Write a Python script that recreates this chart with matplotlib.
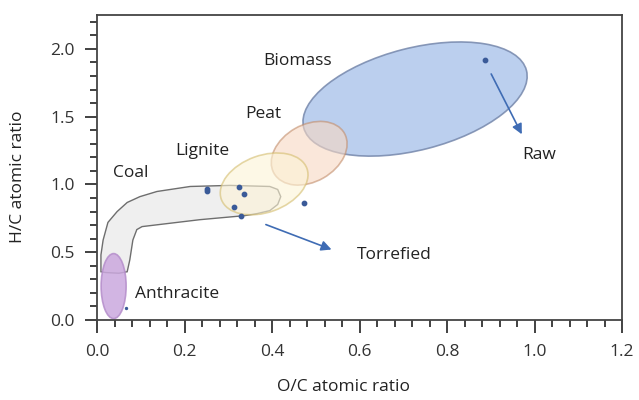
import matplotlib
matplotlib.use("Agg")
import matplotlib.pyplot as plt
import matplotlib.transforms as mtransforms
from matplotlib.patches import Ellipse
from matplotlib.ticker import MultipleLocator

plt.rcParams['font.family'] = ['Open Sans', 'DejaVu Sans']

# fuel regions (centre in data units, size in inches, angle in degrees)
region_names = ["Biomass", "Peat", "Lignite", "Anthracite"]
region_cx = [0.727, 0.485, 0.382, 0.038]
region_cy = [1.63, 1.23, 1.004, 0.25]
region_w = [2.30, 0.81, 0.91, 0.25]
region_h = [1.02, 0.57, 0.57, 0.65]
region_angle = [14.4, 29.6, 19.8, 0.0]
region_face = ["#b0c7ec", "#f8d8c2", "#fdf4d6", "#cba8de"]
region_edge = ["#7688ac", "#c28d6b", "#d4bd6e", "#b58ecb"]
region_alpha = [0.85, 0.6, 0.6, 0.85]

# coal band outline
coal_x = [0.009, 0.009, 0.014, 0.025, 0.046, 0.069, 0.098, 0.137, 0.213, 0.304,
          0.395, 0.413, 0.420, 0.413, 0.395, 0.366, 0.338, 0.235, 0.103, 0.091,
          0.082, 0.075, 0.069, 0.050, 0.020]
coal_y = [0.356, 0.48, 0.59, 0.72, 0.80, 0.867, 0.91, 0.948, 0.985, 0.993,
          0.985, 0.963, 0.91, 0.852, 0.807, 0.785, 0.77, 0.74, 0.689, 0.667,
          0.59, 0.444, 0.356, 0.345, 0.35]

# sample points
pts_x = [0.251, 0.251, 0.325, 0.336, 0.313, 0.330, 0.473, 0.887]
pts_y = [0.970, 0.950, 0.978, 0.933, 0.833, 0.767, 0.863, 1.919]

# arrows: raw and torrefied
arrow_start = [(0.901, 1.815), (0.386, 0.704)]
arrow_end = [(0.971, 1.37), (0.536, 0.52)]

# labels
label_text = ["Biomass", "Peat", "Lignite", "Coal", "Anthracite", "Torrefied", "Raw"]
label_x = [0.379, 0.338, 0.178, 0.037, 0.087, 0.594, 0.971]
label_y = [1.91, 1.52, 1.244, 1.081, 0.193, 0.48, 1.215]

fig = plt.figure(figsize=(6.39, 4.0), dpi=100)
ax = fig.add_axes([0.1518, 0.2, 0.8216, 0.7625])

ax.fill(coal_x, coal_y, facecolor="#efefef", edgecolor="#6e6e6e", lw=1.0, zorder=1)

for i in range(len(region_names)):
    tr = fig.dpi_scale_trans + mtransforms.ScaledTranslation(region_cx[i], region_cy[i], ax.transData)
    e = Ellipse((0, 0), region_w[i], region_h[i], angle=region_angle[i],
                facecolor=region_face[i], edgecolor=region_edge[i], alpha=region_alpha[i],
                lw=1.2, transform=tr, zorder=2)
    ax.add_patch(e)

ax.scatter(pts_x, pts_y, s=10, color="#3a5a98", zorder=4)
ax.scatter([0.066], [0.089], s=2, color="#3a5a98", zorder=4)

for s, e in zip(arrow_start, arrow_end):
    ax.annotate("", xy=e, xytext=s,
                arrowprops=dict(arrowstyle="-|>", color="#3f6cb4", lw=1.2,
                                mutation_scale=15, shrinkA=0, shrinkB=0), zorder=5)

for t, x, y in zip(label_text, label_x, label_y):
    ax.text(x, y, t, fontsize=12.5, color="#222222", va="center", ha="left", zorder=6)

ax.set_xlim(0, 1.2)
ax.set_ylim(0, 2.25)
ax.xaxis.set_major_locator(MultipleLocator(0.2))
ax.xaxis.set_minor_locator(MultipleLocator(0.04))
ax.yaxis.set_major_locator(MultipleLocator(0.5))
ax.yaxis.set_minor_locator(MultipleLocator(0.1))
ax.xaxis.set_major_formatter(plt.FormatStrFormatter('%.1f'))
ax.yaxis.set_major_formatter(plt.FormatStrFormatter('%.1f'))
ax.tick_params(which='major', length=9, width=1.3, colors="#333333", labelsize=12.5, direction='out')
ax.tick_params(which='minor', length=5, width=1.3, colors="#333333", direction='out')
ax.tick_params(axis='x', pad=8)
ax.tick_params(axis='y', pad=7)
for sp in ax.spines.values():
    sp.set_color("#444444")
    sp.set_linewidth(1.3)

ax.set_xlabel("O/C atomic ratio", fontsize=12.5, color="#222222")
ax.xaxis.set_label_coords(0.47, -0.195)
ax.set_ylabel("H/C atomic ratio", fontsize=12.5, color="#222222")
ax.yaxis.set_label_coords(-0.135, 0.47)

fig.savefig("out.png", dpi=100)
